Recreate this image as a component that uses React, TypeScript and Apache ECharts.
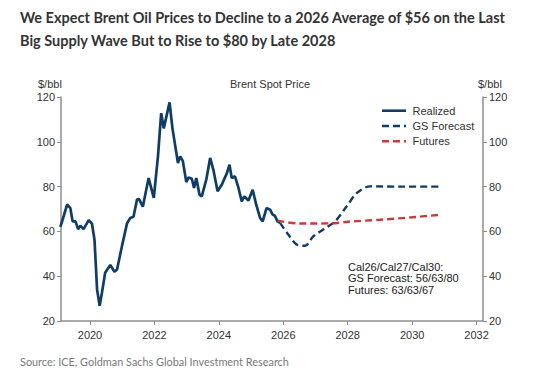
import React, { useEffect, useRef } from "react";
import * as echarts from "echarts";

const realizedDates = [
  2019.08, 2019.15, 2019.29, 2019.39, 2019.46, 2019.55, 2019.63, 2019.7, 2019.8, 2019.96,
  2020.06, 2020.14, 2020.22, 2020.3, 2020.37, 2020.47, 2020.63, 2020.76, 2020.84, 2020.99,
  2021.15, 2021.25, 2021.35, 2021.46, 2021.52, 2021.64, 2021.82, 2021.98, 2022.11, 2022.21,
  2022.29, 2022.47, 2022.56, 2022.73, 2022.8, 2022.88, 2022.99, 2023.06, 2023.16, 2023.23,
  2023.3, 2023.4, 2023.47, 2023.61, 2023.73, 2023.83, 2023.96, 2024.09, 2024.25, 2024.33,
  2024.4, 2024.5, 2024.61, 2024.71, 2024.79, 2024.92, 2025.05, 2025.16, 2025.28, 2025.36,
  2025.48, 2025.59, 2025.67, 2025.74, 2025.82, 2025.9,
];
const realizedPrices = [
  62, 65.2, 72, 70.4, 64.5, 64.5, 61, 62.5, 61, 65,
  63.5, 56.3, 34, 26.8, 32.5, 41.5, 45, 42, 43, 53.3,
  63.6, 66, 66.5, 74.2, 74.5, 71, 83.8, 75, 93.5, 112.8,
  106, 117.6, 106, 90.5, 93.5, 91.5, 82, 84.1, 83.5, 79.4,
  83.8, 76.4, 75.6, 83.1, 92.8, 87.5, 77.9, 80.8, 86, 89.8,
  83.8, 84.6, 79.4, 73.4, 75.6, 73.8, 78.6, 71.9, 66, 64.5,
  70.4, 69.7, 67.5, 67, 64.5, 63.8,
];
const forecastDates = [2025.9, 2026.16, 2026.42, 2026.68, 2026.93, 2027.24, 2027.61, 2027.97, 2028.28, 2028.69, 2029.62, 2030.91];
const forecastPrices = [63.8, 58.5, 54.1, 53.6, 57.8, 60.8, 64.5, 71.2, 77.1, 80.1, 80, 80];
const futuresDates = [2025.82, 2026.5, 2027.5, 2028, 2029, 2030, 2030.91];
const futuresPrices = [64.8, 63.5, 63.6, 64.3, 65.2, 66.3, 67.5];
const yearTicks = [2020, 2022, 2024, 2026, 2028, 2030, 2032];
const seriesNames = ["Realized", "GS Forecast", "Futures"];

const zip = (xs: number[], ys: number[]) => xs.map((x, i) => [x, ys[i]]);

const NAVY = "#0f3d67";
const RED = "#c93a3a";
const AXIS = "#8e8e8e";
const TXT = "#333333";
const FONT = "Liberation Sans";

export default function App() {
  const ref = useRef<HTMLDivElement>(null);
  useEffect(() => {
    if (!ref.current) return;
    const chart = echarts.init(ref.current, undefined, { renderer: "svg" });
    const yAxisCommon = {
      type: "value" as const,
      min: 20,
      max: 120,
      interval: 20,
      splitLine: { show: false },
      axisLine: { show: true, lineStyle: { color: AXIS, width: 1.5 } },
      axisTick: { show: true, length: 4, lineStyle: { color: AXIS } },
      axisLabel: { color: TXT, fontFamily: FONT, fontSize: 11, margin: 6 },
    };
    const legendStyles = [
      { color: NAVY, dash: null as null | number[] },
      { color: NAVY, dash: [7, 4] },
      { color: RED, dash: [7, 4] },
    ];
    const legendGraphics: any[] = [];
    seriesNames.forEach((name, i) => {
      const y = 110.7 + i * 15.3;
      legendGraphics.push({
        type: "line",
        shape: { x1: 382, y1: y, x2: 406, y2: y },
        style: { stroke: legendStyles[i].color, lineWidth: 2.6, lineDash: legendStyles[i].dash },
      });
      legendGraphics.push({
        type: "text",
        x: 412.5,
        y,
        style: { text: name, fill: TXT, font: `11px ${FONT}`, verticalAlign: "middle" },
      });
    });
    chart.setOption({
      animation: false,
      backgroundColor: "#ffffff",
      grid: { left: 61, right: 77, top: 97, bottom: 59 },
      xAxis: {
        type: "value",
        min: 2019.1,
        max: 2032.2,
        splitLine: { show: false },
        axisLine: { lineStyle: { color: AXIS, width: 1.5 } },
        axisTick: { show: true, length: 4, customValues: yearTicks, lineStyle: { color: AXIS } },
        axisLabel: {
          customValues: yearTicks,
          color: TXT,
          fontFamily: FONT,
          fontSize: 11,
          margin: 8,
          formatter: (v: number) => String(Math.round(v)),
        },
      },
      yAxis: [
        { ...yAxisCommon, position: "left" },
        { ...yAxisCommon, position: "right" },
      ],
      series: [
        {
          name: seriesNames[0],
          type: "line",
          data: zip(realizedDates, realizedPrices),
          symbol: "none",
          lineStyle: { color: NAVY, width: 2.7 },
          itemStyle: { color: NAVY },
          z: 3,
        },
        {
          name: seriesNames[1],
          type: "line",
          data: zip(forecastDates, forecastPrices),
          symbol: "none",
          smooth: 0.3,
          lineStyle: { color: NAVY, width: 2.4, type: [7, 4] },
          itemStyle: { color: NAVY },
        },
        {
          name: seriesNames[2],
          type: "line",
          data: zip(futuresDates, futuresPrices),
          symbol: "none",
          smooth: 0.3,
          lineStyle: { color: RED, width: 2.4, type: [7, 4] },
          itemStyle: { color: RED },
        },
      ],
      graphic: [
        {
          type: "text",
          left: 20,
          top: 6,
          style: {
            text: "We Expect Brent Oil Prices to Decline to a 2026 Average of $56 on the Last\nBig Supply Wave But to Rise to $80 by Late 2028",
            fill: "#333333",
            font: "bold 14.5px Lato",
            lineHeight: 23,
          },
        },
        {
          type: "text",
          left: 20,
          top: 356,
          style: {
            text: "Source: ICE, Goldman Sachs Global Investment Research",
            fill: "#7a7a7a",
            font: "10.9px Lato",
          },
        },
        {
          type: "text",
          x: 270,
          y: 84,
          style: { text: "Brent Spot Price", fill: TXT, font: `11px ${FONT}`, align: "center", verticalAlign: "middle" },
        },
        {
          type: "text",
          x: 38,
          y: 84,
          style: { text: "$/bbl", fill: TXT, font: `11px ${FONT}`, verticalAlign: "middle" },
        },
        {
          type: "text",
          x: 478,
          y: 84,
          style: { text: "$/bbl", fill: TXT, font: `11px ${FONT}`, verticalAlign: "middle" },
        },
        {
          type: "text",
          x: 348,
          y: 261,
          style: {
            text: "Cal26/Cal27/Cal30:\nGS Forecast: 56/63/80\nFutures: 63/63/67",
            fill: "#222222",
            font: `11px ${FONT}`,
            lineHeight: 11.5,
          },
        },
        ...legendGraphics,
      ],
    });
    return () => chart.dispose();
  }, []);
  return <div ref={ref} style={{ position: "fixed", left: 0, top: 0, width: 560, height: 380 }} />;
}
